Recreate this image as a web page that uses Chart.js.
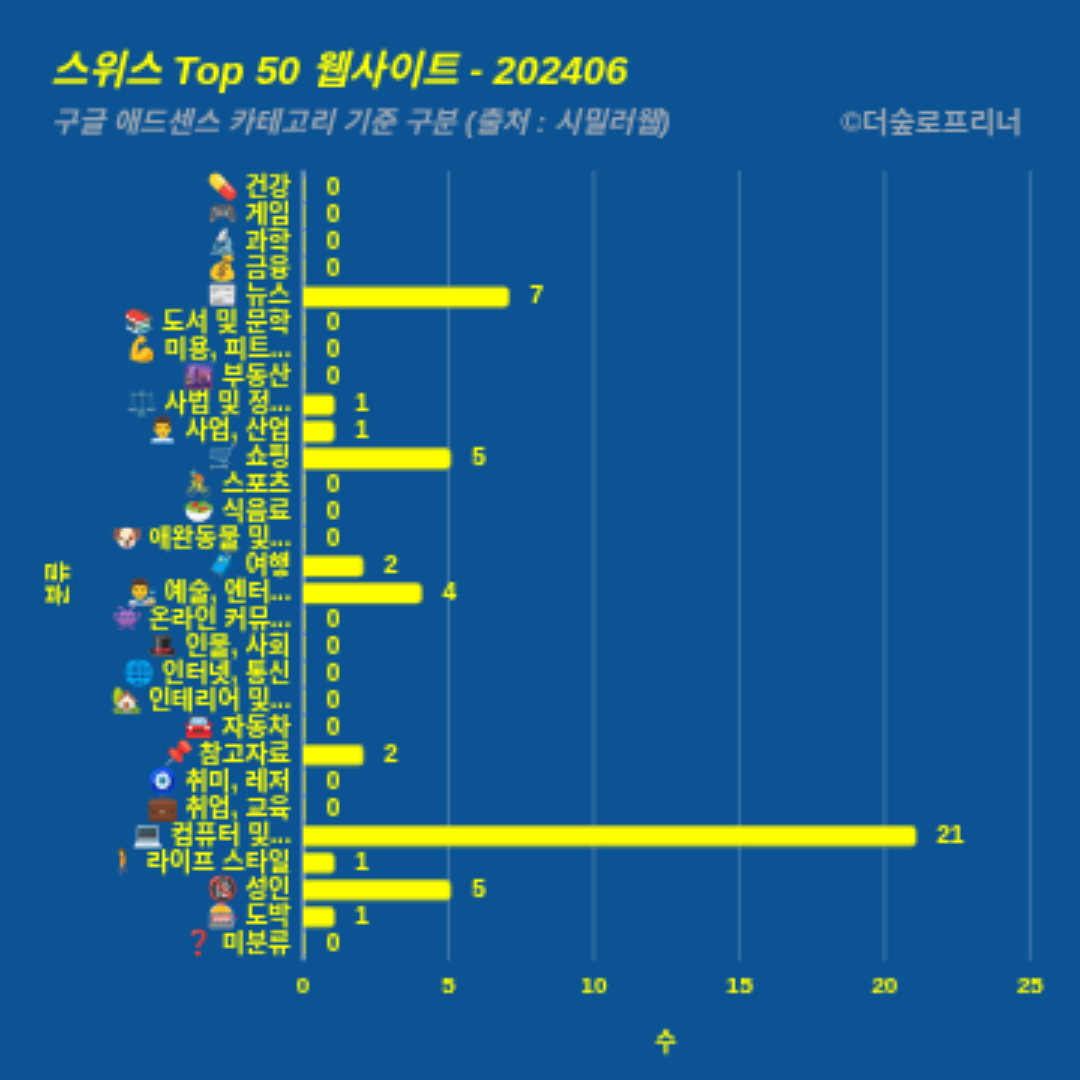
<!DOCTYPE html>
<html>
<head>
<meta charset="utf-8">
<script src="https://cdn.jsdelivr.net/npm/chart.js@4"></script>
<style>
html, body { margin: 0; padding: 0; background: #0c5394; }
#wrap { position: relative; width: 1080px; height: 1080px; }
</style>
</head>
<body>
<div id="wrap"><canvas id="chart" width="1080" height="1080"></canvas></div>
<script>
var categories = ["건강","게임","과학","금융","뉴스","도서 및 문학","미용, 피트...","부동산","사법 및 정...","사업, 산업","쇼핑","스포츠","식음료","애완동물 및...","여행","예술, 엔터...","온라인 커뮤...","인물, 사회","인터넷, 통신","인테리어 및...","자동차","참고자료","취미, 레저","취업, 교육","컴퓨터 및...","라이프 스타일","성인","도박","미분류"];
var icons = ["💊","🎮","🔬","💰","📰","📚","💪","🌆","⚖️","👨‍💼","🛒","🚴","🥗","🐶","🧳","👨‍🎨","👾","🎩","🌐","🏡","🚘","📌","🧿","💼","💻","🚶","🔞","🎰","❓"];
var values = [0,0,0,0,7,0,0,0,1,1,5,0,0,0,2,4,0,0,0,0,0,2,0,0,21,1,5,1,0];
var xTicks = [0,5,10,15,20,25];

var labels = categories.map(function (c, i) { return icons[i] + " " + c; });
var FONT = '"Liberation Sans", "Noto Sans CJK KR", sans-serif';
var YELLOW = "#ffff00";
var OLIVE = "#c8cc30";

var decor = {
  id: "decor",
  // the reference draws its bar rim outside the value, chart.js draws it inside
  afterDatasetUpdate: function (chart) {
    chart.getDatasetMeta(0).data.forEach(function (el, i) {
      if (values[i] > 0) {
        el.x += 3.5;
      } else {
        el.x -= 1;
        el.base -= 1;
      }
    });
  },
  beforeDatasetsDraw: function (chart) {
    var c = chart.ctx, a = chart.chartArea, x = chart.scales.x;
    c.save();
    xTicks.forEach(function (t, i) {
      c.lineWidth = i === 0 ? 5 : 3;
      c.strokeStyle = i === 0 ? "#6d94c0" : "rgba(255,255,255,0.2)";
      c.beginPath();
      c.moveTo(x.getPixelForValue(t) + (i === 0 ? 0.5 : 0), a.top - 5);
      c.lineTo(x.getPixelForValue(t) + (i === 0 ? 0.5 : 0), a.bottom + 3);
      c.stroke();
    });
    c.restore();
  },
  afterDatasetsDraw: function (chart) {
    var c = chart.ctx, x = chart.scales.x, y = chart.scales.y;
    c.save();
    c.fillStyle = YELLOW;
    c.font = "bold 25px " + FONT;
    c.textAlign = "left";
    c.textBaseline = "middle";
    values.forEach(function (v, i) {
      c.fillText(String(v), x.getPixelForValue(v) + 23, y.getPixelForValue(i));
    });
    c.restore();
  },
  afterDraw: function (chart) {
    var c = chart.ctx;
    c.save();
    c.textBaseline = "alphabetic";
    c.textAlign = "left";
    c.fillStyle = YELLOW;
    c.font = 'italic bold 40px ' + FONT;
    c.fillText("스위스 Top 50 웹사이트 - 202406", 51, 84);
    c.fillStyle = "#9aa6b2";
    c.font = 'italic bold 29px ' + FONT;
    c.fillText("구글 애드센스 카테고리 기준 구분 (출처 : 시밀러웹)", 51, 131);
    c.textAlign = "right";
    c.font = 'bold 29px ' + FONT;
    c.fillText("©더숲로프리너", 1022, 131);
    c.fillStyle = YELLOW;
    c.font = 'bold 24px ' + FONT;
    c.textAlign = "center";
    c.fillText("수", 666, 1051);
    c.translate(67, 583);
    c.rotate(-Math.PI / 2);
    c.fillText("분류", 0, 0);
    c.restore();
  }
};

new Chart(document.getElementById("chart"), {
  type: "bar",
  data: {
    labels: labels,
    datasets: [{
      data: values,
      backgroundColor: values.map(function (v) { return v > 0 ? YELLOW : OLIVE; }),
      borderColor: "#c4c92e",
      borderWidth: values.map(function (v) { return v > 0 ? 2 : 0; }),
      borderSkipped: "left",
      borderRadius: values.map(function (v) { return v > 0 ? { topRight: 6, bottomRight: 6 } : 0; }),
      minBarLength: 3,
      barPercentage: 0.84,
      categoryPercentage: 1
    }]
  },
  plugins: [decor],
  options: {
    indexAxis: "y",
    responsive: false,
    animation: false,
    devicePixelRatio: 1 / 3,
    layout: { padding: { top: 175.5, bottom: 0, right: 50, left: 0 } },
    plugins: { legend: { display: false }, tooltip: { enabled: false }, title: { display: false } },
    scales: {
      x: {
        min: 0, max: 25,
        afterBuildTicks: function (s) { s.ticks = xTicks.map(function (v) { return { value: v }; }); },
        afterFit: function (s) { s.height = 122.5; },
        grid: { display: false },
        border: { display: false },
        ticks: { color: YELLOW, font: { family: FONT, weight: "bold", size: 24 }, maxRotation: 0, padding: 7 }
      },
      y: {
        afterFit: function (s) { s.width = 303; },
        grid: { display: false },
        border: { display: false },
        ticks: { color: YELLOW, autoSkip: false, font: { family: FONT, weight: "bold", size: 25 }, padding: 4 }
      }
    }
  }
});
</script>
</body>
</html>
